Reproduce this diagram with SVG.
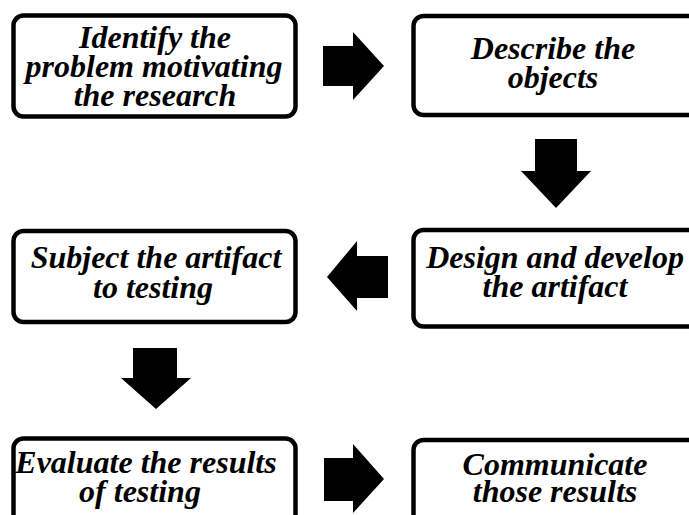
<svg xmlns="http://www.w3.org/2000/svg" width="689" height="515" viewBox="0 0 689 515">
<style>
.box{fill:#fff;stroke:#000;stroke-width:4.5}
.lbl{font-family:"Liberation Serif","Times New Roman",serif;font-style:italic;font-weight:bold;font-size:32px;fill:#000;text-anchor:middle}
.arr{fill:#000}
</style>
<rect width="689" height="515" fill="#fff"/>
<g id="n1"><rect class="box" x="13.5" y="15.5" width="282" height="101" rx="10"/>
<text class="lbl" x="155" y="48">Identify the</text>
<text class="lbl" x="154" y="77">problem motivating</text>
<text class="lbl" x="155" y="106">the research</text></g>
<g id="n2"><rect class="box" x="413.5" y="16" width="290" height="99" rx="10"/>
<text class="lbl" x="553" y="59">Describe the</text>
<text class="lbl" x="553" y="88">objects</text></g>
<g id="n3"><rect class="box" x="413.5" y="230" width="290" height="96.5" rx="10"/>
<text class="lbl" x="555" y="268">Design and develop</text>
<text class="lbl" x="555" y="297">the artifact</text></g>
<g id="n4"><rect class="box" x="13.5" y="231" width="282" height="91" rx="10"/>
<text class="lbl" x="156" y="268">Subject the artifact</text>
<text class="lbl" x="153" y="298">to testing</text></g>
<g id="n5"><rect class="box" x="13.5" y="438.5" width="282" height="100" rx="10"/>
<text class="lbl" x="146" y="473">Evaluate the results</text>
<text class="lbl" x="140" y="502">of testing</text></g>
<g id="n6"><rect class="box" x="413.5" y="440" width="290" height="100" rx="10"/>
<text class="lbl" x="555" y="475">Communicate</text>
<text class="lbl" x="555" y="502">those results</text></g>
<g id="connectors">
<polygon class="arr" points="323,46 353,46 353,32 384,66 353,100 353,86 323,86"/>
<polygon class="arr" points="535,139 577,139 577,171 591,171 556,208 521,171 535,171"/>
<polygon class="arr" points="388,256 388,298 357,298 357,311 327,277 357,241 357,256"/>
<polygon class="arr" points="133,348 177,348 177,378 191,378 156,409 121,378 133,378"/>
<polygon class="arr" points="324,458 353,458 353,444 384,479 353,513 353,501 324,501"/>
</g>
</svg>
